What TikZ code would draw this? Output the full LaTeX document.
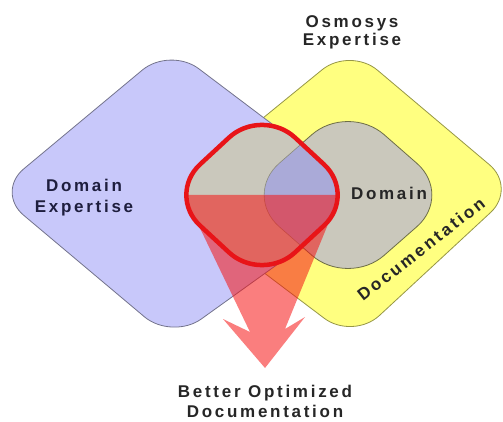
\documentclass[tikz,border=0pt]{standalone}
\usepackage{fontspec}
\newfontfamily\lblfont{Liberation Sans}[LetterSpace=16]

\definecolor{lav}{RGB}{200,200,250}
\definecolor{lavedge}{RGB}{115,115,140}
\definecolor{yel}{RGB}{255,255,128}
\definecolor{yeledge}{RGB}{150,150,70}
\definecolor{stone}{RGB}{202,200,188}
\definecolor{stoneedge}{RGB}{110,110,70}
\definecolor{mix}{RGB}{170,170,216}
\definecolor{ringred}{RGB}{232,20,24}
\definecolor{arrowred}{RGB}{245,20,20}
\definecolor{navytext}{RGB}{30,30,62}
\definecolor{graytext}{RGB}{38,38,38}

\tikzset{
  lbl/.style={font=\lblfont\bfseries\fontsize{17}{20.5}\selectfont,
              align=center, inner sep=0pt, text=graytext},
  bigdiamond/.style={line width=0.8, rounded corners=36},
  domainshape/.style={rounded corners=48},
  ringshape/.style={rounded corners=45},
}

\begin{document}
\begin{tikzpicture}[x=1pt,y=-1pt]
\useasboundingbox (0,0) rectangle (503,422);
\clip (0,0) rectangle (503,422);

% corner points of the inner domain shape and of the red ring
\coordinate (dL) at (243,195);
\coordinate (dT) at (348,103);
\coordinate (dR) at (453,195);
\coordinate (dB) at (348,287);
\coordinate (rL) at (167,195);
\coordinate (rT) at (262,107);
\coordinate (rR) at (357,195);
\coordinate (rB) at (262,283);

% Osmosys expertise (yellow)
\path[bigdiamond, draw=yeledge, fill=yel]
  (165,198) -- (350,47) -- (517,188) -- (353,340) -- cycle;
% Domain expertise (lavender)
\path[bigdiamond, draw=lavedge, fill=lav]
  (-4,192) -- (170,47) -- (370,198) -- (172,340) -- cycle;

% Domain inside the documentation area
\path[domainshape, draw=stoneedge, fill=stone, line width=0.8]
  (dL) -- (dT) -- (dR) -- (dB) -- cycle;

% interior of the ring
\fill[ringshape, stone] (rL) -- (rT) -- (rR) -- (rB) -- cycle;
\begin{scope}
  \clip[ringshape] (rL) -- (rT) -- (rR) -- (rB) -- cycle;
  \fill[domainshape, mix] (dL) -- (dT) -- (dR) -- (dB) -- cycle;
  \draw[domainshape, stoneedge, line width=0.6, draw opacity=0.6]
    (dL) -- (dT) -- (dR) -- (dB) -- cycle;
\end{scope}

% translucent arrow leaving the ring
\fill[arrowred, fill opacity=0.55]
  (184,195) -- (340,195) -- (285,329) -- (305,317) -- (265,368)
  -- (223,319) -- (250,332) -- cycle;

% the ring outline
\draw[ringshape, ringred, line width=4.5] (rL) -- (rT) -- (rR) -- (rB) -- cycle;

% labels
\node[lbl] (osm) at (352,32.5) {Osmosys\\[-3pt]Expertise};
\node[lbl, text=navytext] (dexp) at (84,197.5) {Domain\\Expertise};
\node[lbl] (dom) at (389,193.5) {Domain};
\node[lbl, rotate=38] (doc) at (421,249) {Documentation};
\node[lbl] (better) at (265,401.5) {Better Optimized\\[0pt]Documentation};
\end{tikzpicture}
\end{document}
